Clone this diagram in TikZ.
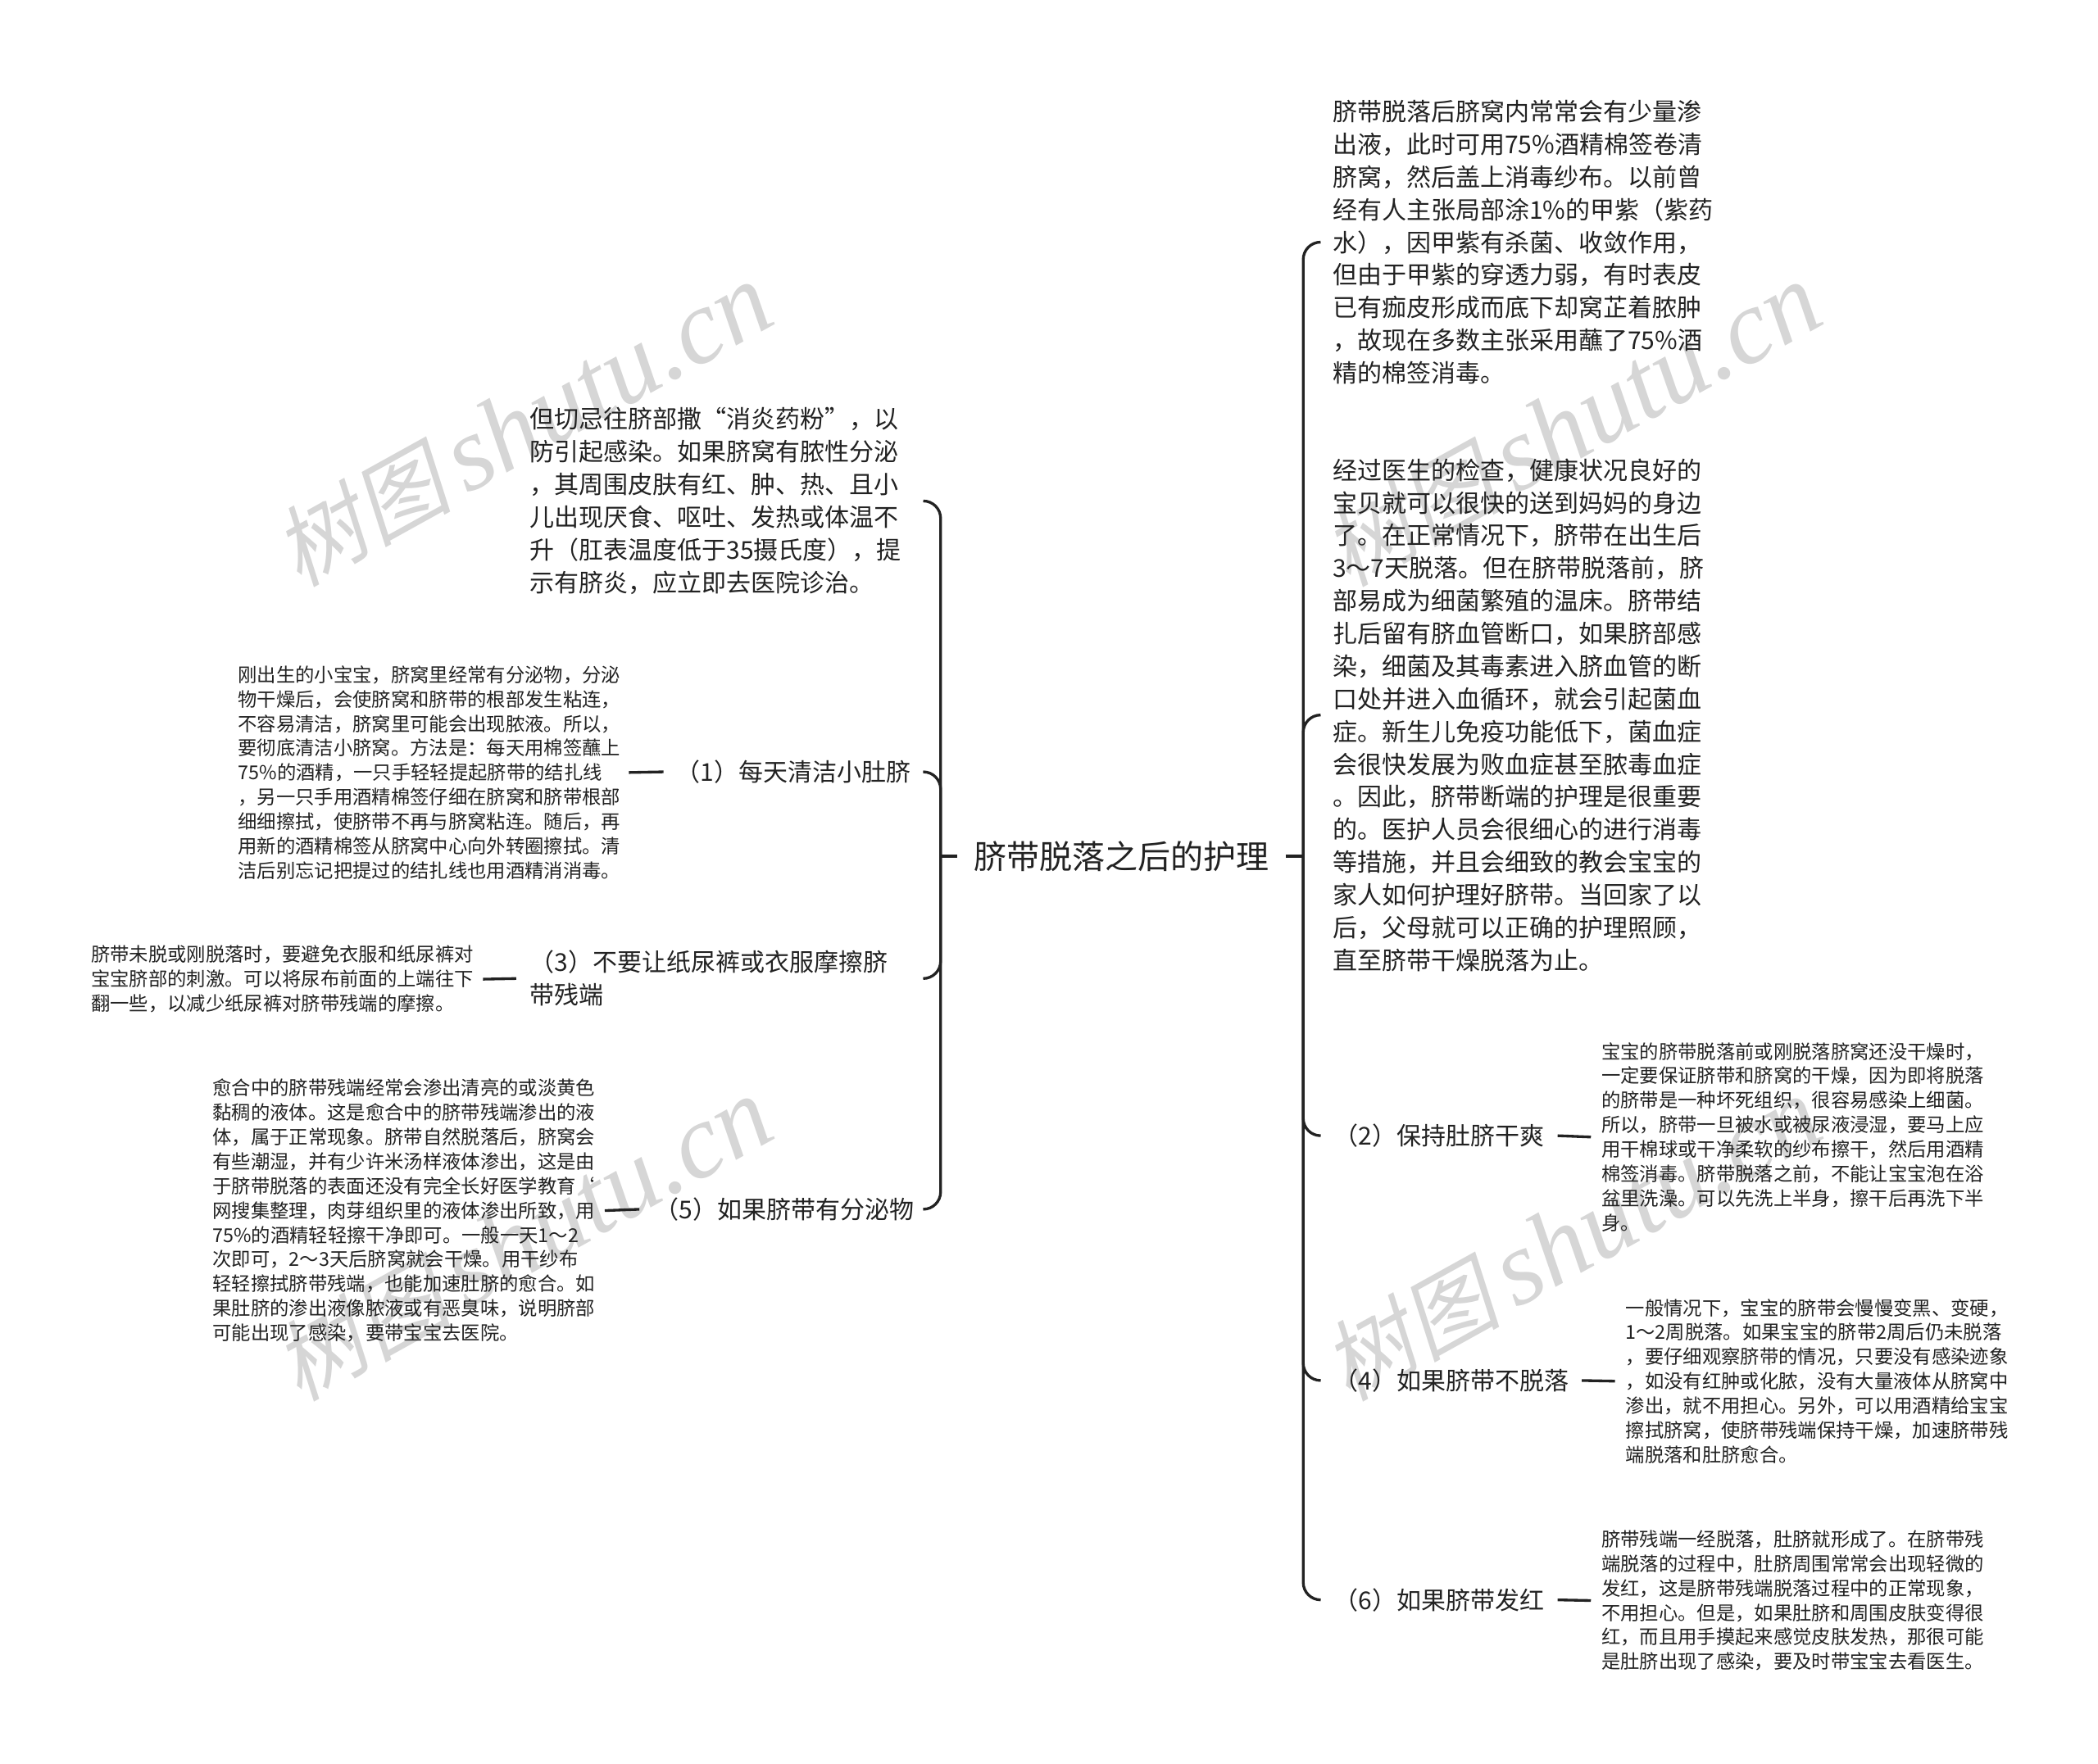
\documentclass[tikz,border=0pt]{standalone}
\usepackage{fontspec}
\setmainfont{Noto Sans CJK SC}
\newfontfamily\wmcjk[FakeSlant=0.2]{Noto Sans CJK SC}
\newfontfamily\wmlat{Liberation Serif}
\newdimen\uu \uu=1.2245pt
\definecolor{ink}{HTML}{222222}
\definecolor{wmgrey}{HTML}{D6D6D6}
\newcommand{\wmtext}{{\fontsize{81}{90}\selectfont\wmcjk 树图}\hspace{14pt}{\fontsize{97}{100}\selectfont\wmlat\itshape shutu.cn}}
\tikzset{
  base/.style={inner sep=0pt, align=left, text=ink},
  small/.style={base, font=\fontsize{17.5}{22.4}\selectfont},
  med/.style={base, font=\fontsize{22.5}{29.9}\selectfont},
  big/.style={inner sep=0pt, text=ink, font=\fontsize{30}{36}\selectfont},
  conn/.style={draw=ink, line width=2.5pt},
  branch/.style={conn, rounded corners=13\uu},
  wm/.style={inner sep=0pt, text=wmgrey, rotate=29}
}
\begin{document}
\begin{tikzpicture}[x=1.2245pt,y=-1.2245pt]
\useasboundingbox (0,0) rectangle (1568,1318.7);
\fill[white] (0,0) rectangle (1568,1318.7);
% watermarks
\node[wm] (wm1) at (391,318) {\wmtext};
\node[wm] (wm2) at (1175,318) {\wmtext};
\node[wm] (wm3) at (391,927) {\wmtext};
\node[wm] (wm4) at (1175,927) {\wmtext};
% root
\node[big, outer xsep=12.5\uu] (root) at (838,640) {脐带脱落之后的护理};
\coordinate (busL) at (703,640);
\coordinate (busR) at (974,640);
% left side
\node[med, text width=284\uu, outer xsep=10\uu] (a) at (538,374.5) {但切忌往脐部撒“消炎药粉”，以\\%
防引起感染。如果脐窝有脓性分泌\\%
，其周围皮肤有红、肿、热、且小\\%
儿出现厌食、呕吐、发热或体温不\\%
升（肛表温度低于35摄氏度），提\\%
示有脐炎，应立即去医院诊治。};
\node[med, text width=176\uu, inner xsep=9\uu] (l1) at (593,577) {（1）每天清洁小肚脐};
\node[small, text width=285\uu, outer xsep=7\uu] (b) at (320.5,577.5) {刚出生的小宝宝，脐窝里经常有分泌物，分泌\\%
物干燥后，会使脐窝和脐带的根部发生粘连，\\%
不容易清洁，脐窝里可能会出现脓液。所以，\\%
要彻底清洁小脐窝。方法是：每天用棉签蘸上\\%
75\%的酒精，一只手轻轻提起脐带的结扎线\\%
，另一只手用酒精棉签仔细在脐窝和脐带根部\\%
细细擦拭，使脐带不再与脐窝粘连。随后，再\\%
用新的酒精棉签从脐窝中心向外转圈擦拭。清\\%
洁后别忘记把提过的结扎线也用酒精消消毒。};
\node[med, text width=284\uu, inner xsep=10\uu] (l3) at (538,731.5) {（3）不要让纸尿裤或衣服摩擦脐\\%
带残端};
\node[small, text width=286\uu, outer xsep=7\uu] (c) at (211,732) {脐带未脱或刚脱落时，要避免衣服和纸尿裤对\\%
宝宝脐部的刺激。可以将尿布前面的上端往下\\%
翻一些，以减少纸尿裤对脐带残端的摩擦。};
\node[med, text width=190\uu, inner xsep=11\uu] (l5) at (584,904) {（5）如果脐带有分泌物};
\node[small, text width=286\uu, outer xsep=7\uu] (d) at (302,905) {愈合中的脐带残端经常会渗出清亮的或淡黄色\\%
黏稠的液体。这是愈合中的脐带残端渗出的液\\%
体，属于正常现象。脐带自然脱落后，脐窝会\\%
有些潮湿，并有少许米汤样液体渗出，这是由\\%
于脐带脱落的表面还没有完全长好医学教育`\\%
网搜集整理，肉芽组织里的液体渗出所致，用\\%
75\%的酒精轻轻擦干净即可。一般一天1～2\\%
次即可，2～3天后脐窝就会干燥。用干纱布\\%
轻轻擦拭脐带残端，也能加速肚脐的愈合。如\\%
果肚脐的渗出液像脓液或有恶臭味，说明脐部\\%
可能出现了感染，要带宝宝去医院。};
% right side
\node[med, text width=284\uu, outer xsep=9\uu] (e) at (1138,181) {脐带脱落后脐窝内常常会有少量渗\\%
出液，此时可用75\%酒精棉签卷清\\%
脐窝，然后盖上消毒纱布。以前曾\\%
经有人主张局部涂1\%的甲紫（紫药\\%
水），因甲紫有杀菌、收敛作用，\\%
但由于甲紫的穿透力弱，有时表皮\\%
已有痂皮形成而底下却窝芷着脓肿\\%
，故现在多数主张采用蘸了75\%酒\\%
精的棉签消毒。};
\node[med, text width=284\uu, outer xsep=9\uu] (f) at (1138,534.5) {经过医生的检查，健康状况良好的\\%
宝贝就可以很快的送到妈妈的身边\\%
了。在正常情况下，脐带在出生后\\%
3～7天脱落。但在脐带脱落前，脐\\%
部易成为细菌繁殖的温床。脐带结\\%
扎后留有脐血管断口，如果脐部感\\%
染，细菌及其毒素进入脐血管的断\\%
口处并进入血循环，就会引起菌血\\%
症。新生儿免疫功能低下，菌血症\\%
会很快发展为败血症甚至脓毒血症\\%
。因此，脐带断端的护理是很重要\\%
的。医护人员会很细心的进行消毒\\%
等措施，并且会细致的教会宝宝的\\%
家人如何护理好脐带。当回家了以\\%
后，父母就可以正确的护理照顾，\\%
直至脐带干燥脱落为止。};
\node[med, text width=157\uu, inner xsep=10\uu] (l2) at (1075.5,849) {（2）保持肚脐干爽};
\node[small, text width=286\uu, outer xsep=8\uu] (g) at (1340,850) {宝宝的脐带脱落前或刚脱落脐窝还没干燥时，\\%
一定要保证脐带和脐窝的干燥，因为即将脱落\\%
的脐带是一种坏死组织，很容易感染上细菌。\\%
所以，脐带一旦被水或被尿液浸湿，要马上应\\%
用干棉球或干净柔软的纱布擦干，然后用酒精\\%
棉签消毒。脐带脱落之前，不能让宝宝泡在浴\\%
盆里洗澡。可以先洗上半身，擦干后再洗下半\\%
身。};
\node[med, text width=175\uu, inner xsep=10\uu] (l4) at (1084.5,1032) {（4）如果脐带不脱落};
\node[small, text width=286\uu, outer xsep=8\uu] (h) at (1358,1032.5) {一般情况下，宝宝的脐带会慢慢变黑、变硬，\\%
1～2周脱落。如果宝宝的脐带2周后仍未脱落\\%
，要仔细观察脐带的情况，只要没有感染迹象\\%
，如没有红肿或化脓，没有大量液体从脐窝中\\%
渗出，就不用担心。另外，可以用酒精给宝宝\\%
擦拭脐窝，使脐带残端保持干燥，加速脐带残\\%
端脱落和肚脐愈合。};
\node[med, text width=157\uu, inner xsep=10\uu] (l6) at (1075.5,1196) {（6）如果脐带发红};
\node[small, text width=286\uu, outer xsep=8\uu] (i) at (1340,1196.5) {脐带残端一经脱落，肚脐就形成了。在脐带残\\%
端脱落的过程中，肚脐周围常常会出现轻微的\\%
发红，这是脐带残端脱落过程中的正常现象，\\%
不用担心。但是，如果肚脐和周围皮肤变得很\\%
红，而且用手摸起来感觉皮肤发热，那很可能\\%
是肚脐出现了感染，要及时带宝宝去看医生。};
% connectors
\draw[conn] (root.west) -- (busL);
\draw[conn] (root.east) -- (busR);
\draw[branch] (a.east) -| (busL);
\draw[branch] (l1.east) -| (busL);
\draw[branch] (l3.east) -| (busL);
\draw[branch] (l5.east) -| (busL);
\draw[branch] (e.west) -| (busR);
\draw[branch] (f.west) -| (busR);
\draw[branch] (l2.west) -| (busR);
\draw[branch] (l4.west) -| (busR);
\draw[branch] (l6.west) -| (busR);
\draw[conn] (b.east) -- (l1.west);
\draw[conn] (c.east) -- (l3.west);
\draw[conn] (d.east) -- (l5.west);
\draw[conn] (l2.east) -- (g.west);
\draw[conn] (l4.east) -- (h.west);
\draw[conn] (l6.east) -- (i.west);
\end{tikzpicture}
\end{document}
